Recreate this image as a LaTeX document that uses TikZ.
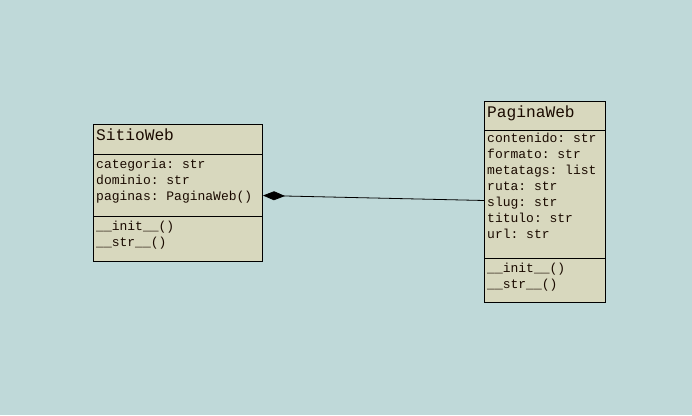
\documentclass[tikz,border=0pt]{standalone}
\usepackage{fontspec}
\setmonofont{Liberation Mono}
\usetikzlibrary{arrows.meta}
\definecolor{bgcol}{HTML}{BFD9D9}
\definecolor{boxcol}{HTML}{D8D8BE}
\definecolor{txtcol}{HTML}{1A0A00}
\newfontfamily\umltitle[Scale=1]{Liberation Mono}
\begin{document}
\begin{tikzpicture}[x=1pt,y=-1pt,
  classbox/.style={draw=black,fill=boxcol,line width=0.8pt},
  sepline/.style={draw=black,line width=0.8pt},
  ctitle/.style={anchor=base west,inner sep=0pt,text=txtcol,font=\ttfamily\fontsize{16.2}{16}\selectfont},
  cline/.style={anchor=base west,inner sep=0pt,text=txtcol,font=\ttfamily\fontsize{13}{13}\selectfont},
  assoc/.style={draw=black,line width=0.8pt}]
  \fill[bgcol] (0,0) rectangle (692,415);
  \useasboundingbox (0,0) rectangle (692,415);

  % class SitioWeb
  \path[classbox] (93.5,124.5) rectangle (262.5,261);
  \coordinate (sw) at (93.5,124.5);
  \draw[sepline] (93.5,154.5) -- (262.5,154.5);
  \draw[sepline] (93.5,216.5) -- (262.5,216.5);
  \node[ctitle] (swtitle) at (96,140.5) {SitioWeb};
  \node[cline] (swa1) at (96,168.5) {categoria: str};
  \node[cline] (swa2) at (96,184.5) {dominio: str};
  \node[cline] (swa3) at (96,200) {paginas: PaginaWeb()};
  \node[cline] (swm1) at (96,230) {\_\_init\_\_()};
  \node[cline] (swm2) at (96,246) {\_\_str\_\_()};

  % class PaginaWeb
  \path[classbox] (484.5,101.5) rectangle (605,302.5);
  \draw[sepline] (484.5,130.5) -- (605,130.5);
  \draw[sepline] (484.5,258.5) -- (605,258.5);
  \node[ctitle] (pwtitle) at (487,117) {PaginaWeb};
  \node[cline] (pwa1) at (487,142.5) {contenido: str};
  \node[cline] (pwa2) at (487,158.5) {formato: str};
  \node[cline] (pwa3) at (487,174.5) {metatags: list};
  \node[cline] (pwa4) at (487,190.5) {ruta: str};
  \node[cline] (pwa5) at (487,206.5) {slug: str};
  \node[cline] (pwa6) at (487,222.5) {titulo: str};
  \node[cline] (pwa7) at (487,238.5) {url: str};
  \node[cline] (pwm1) at (487,272.5) {\_\_init\_\_()};
  \node[cline] (pwm2) at (487,288.5) {\_\_str\_\_()};

  % composition: SitioWeb owns PaginaWeb
  \coordinate (compA) at (263,195.5);
  \coordinate (compB) at (484.5,200.5);
  \draw[assoc,{Diamond[length=22pt,width=9pt]}-] (compA) -- (compB);
\end{tikzpicture}
\end{document}
